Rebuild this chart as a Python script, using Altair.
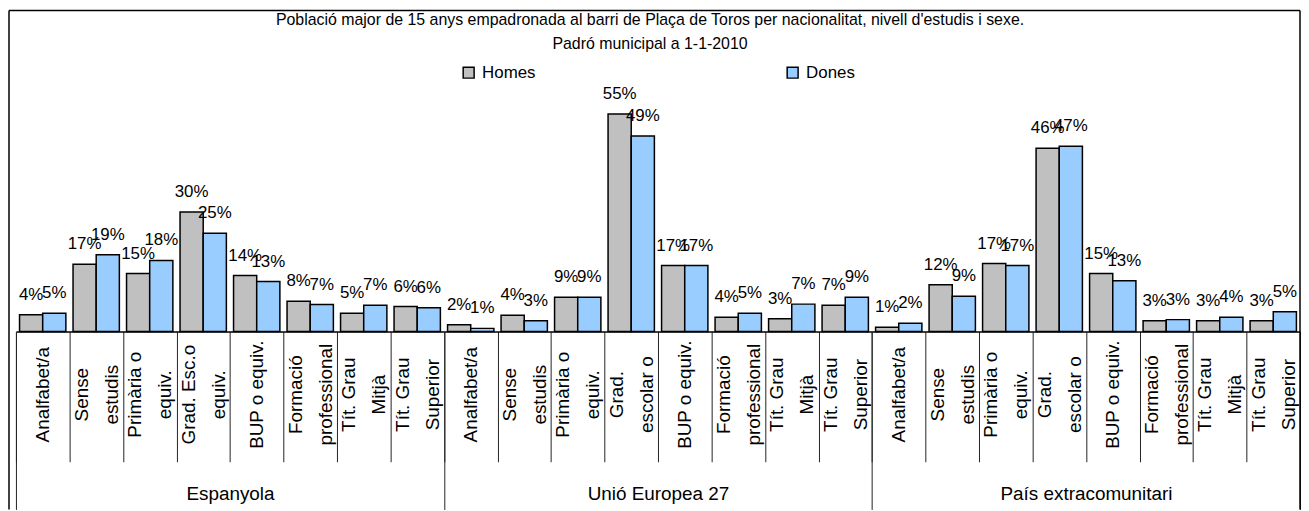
import altair as alt
import pandas as pd

# ---------------- data ----------------
groups = ["Espanyola", "Unió Europea 27", "País extracomunitari"]
levels_esp = ["Analfabet/a", "Sense|estudis", "Primària o|equiv.", "Grad. Esc.o|equiv.",
              "BUP o equiv.", "Formació|professional", "Tít. Grau|Mitjà", "Tít. Grau|Superior"]
levels_other = ["Analfabet/a", "Sense|estudis", "Primària o|equiv.", "Grad.|escolar o",
                "BUP o equiv.", "Formació|professional", "Tít. Grau|Mitjà", "Tít. Grau|Superior"]
sexes = ["Homes", "Dones"]

homes_esp = [4.2, 16.9, 14.6, 30.1, 14.1, 7.6, 4.6, 6.3]
dones_esp = [4.6, 19.3, 17.9, 24.7, 12.6, 6.8, 6.6, 6.0]
homes_ue = [1.7, 4.1, 8.6, 54.7, 16.6, 3.6, 3.2, 6.6]
dones_ue = [0.8, 2.7, 8.6, 49.2, 16.6, 4.6, 6.9, 8.6]
homes_ext = [1.1, 11.8, 17.1, 46.1, 14.6, 2.7, 2.7, 2.7]
dones_ext = [2.1, 8.9, 16.6, 46.6, 12.8, 3.0, 3.6, 5.0]

title_1 = "Població major de 15 anys empadronada al barri de Plaça de Toros per nacionalitat, nivell d'estudis i sexe."
title_2 = "Padró municipal a 1-1-2010"

series = {
    "Espanyola": (levels_esp, homes_esp, dones_esp),
    "Unió Europea 27": (levels_other, homes_ue, dones_ue),
    "País extracomunitari": (levels_other, homes_ext, dones_ext),
}

rows = []
cat_order = []
for g in groups:
    levels, h, d = series[g]
    for i, lev in enumerate(levels):
        key = g + "|" + lev
        cat_order.append(key)
        rows.append({"group": g, "cat": key, "sex": "Homes", "value": h[i]})
        rows.append({"group": g, "cat": key, "sex": "Dones", "value": d[i]})
df = pd.DataFrame(rows)
gdf = pd.DataFrame({"group": groups})

FONT = "Liberation Sans"
W, H = 1292, 240
PAD_L, PAD_T, PAD_R, PAD_B = 8, 84, 1, 179

x_cat = alt.X(
    "cat:N", sort=cat_order,
    scale=alt.Scale(paddingInner=0, paddingOuter=0),
    axis=alt.Axis(
        orient="bottom", title=None, tickBand="extent", tickSize=131,
        tickColor="#222222", tickWidth=1, domainColor="black", domainWidth=1.5,
        labelAngle=270, labelAlign="center", labelBaseline="middle",
        labelPadding=-68, labelFontSize=19, labelLineHeight=30, labelFont=FONT,
        labelColor="black", labelExpr="slice(split(datum.value, '|'), 1)",
        labelOffset={"condition": {"test": "length(split(datum.value, '|')) > 2", "value": -15},
                     "value": 0},
        labelLimit=300,
    ),
)
y_val = alt.Y("value:Q", scale=alt.Scale(domain=[0, 60], nice=False, zero=True), axis=None)
x_off = alt.XOffset("sex:N", sort=sexes, scale=alt.Scale(paddingOuter=0.155, paddingInner=0))

base = alt.Chart(df)

bars = base.mark_bar(stroke="black", strokeWidth=1.5).encode(
    x=x_cat, y=y_val, xOffset=x_off,
    color=alt.Color(
        "sex:N", sort=sexes,
        scale=alt.Scale(domain=sexes, range=["#C0C0C0", "#99CCFF"]),
        legend=alt.Legend(
            title=None, orient="none", direction="horizontal", legendX=447, legendY=-29,
            symbolType="square", symbolSize=121, symbolStrokeColor="black",
            symbolStrokeWidth=1.5, labelFontSize=17, labelFont=FONT, labelColor="black",
            labelOffset=5, columnPadding=250,
        ),
    ),
)

labels = base.transform_calculate(
    lab="format(datum.value, '.0f') + '%'"
).mark_text(
    baseline="alphabetic", align="center", dy=-15, fontSize=17, font=FONT, color="black"
).encode(x=x_cat, y=y_val, xOffset=x_off, text="lab:N")

one = pd.DataFrame({"k": [0]})
frame_top = alt.Chart(one).mark_rule(color="black", strokeWidth=1.5).encode(
    x=alt.value(-7), x2=alt.value(W), y=alt.value(-83))
frame_left = alt.Chart(one).mark_rule(color="black", strokeWidth=1.5).encode(
    x=alt.value(-7), y=alt.value(-83), y2=alt.value(H + PAD_B))
frame_right = alt.Chart(one).mark_rule(color="black", strokeWidth=1.5).encode(
    x=alt.value(W), y=alt.value(-83), y2=alt.value(H + PAD_B))

t1 = alt.Chart(one).mark_text(text=title_1, fontSize=16, font=FONT, color="black",
                              align="center", baseline="alphabetic").encode(
    x=alt.value(638), y=alt.value(-68))
t2 = alt.Chart(one).mark_text(text=title_2, fontSize=16, font=FONT, color="black",
                              align="center", baseline="alphabetic").encode(
    x=alt.value(638), y=alt.value(-44))

inner = alt.layer(bars, labels, frame_top, frame_left, frame_right, t1, t2)

group_layer = alt.Chart(gdf).mark_point(opacity=0).encode(
    x=alt.X("group:N", sort=groups,
            scale=alt.Scale(paddingInner=0, paddingOuter=0),
            axis=alt.Axis(orient="bottom", title=None, tickBand="extent", tickSize=179,
                          tickColor="#222222", tickWidth=1, domain=False,
                          labelAngle=0, labelAlign="center", labelBaseline="alphabetic",
                          labelPadding=-10, labelFontSize=19, labelFont=FONT,
                          labelColor="black")),
)

chart = alt.layer(inner, group_layer).resolve_scale(x="independent").properties(
    width=W, height=H,
    autosize=alt.AutoSizeParams(type="none"),
    padding={"left": PAD_L, "top": PAD_T, "right": PAD_R, "bottom": PAD_B},
    background="white",
).configure_view(stroke=None)

chart.save("out.html", embed_options={"renderer": "svg", "actions": False})
